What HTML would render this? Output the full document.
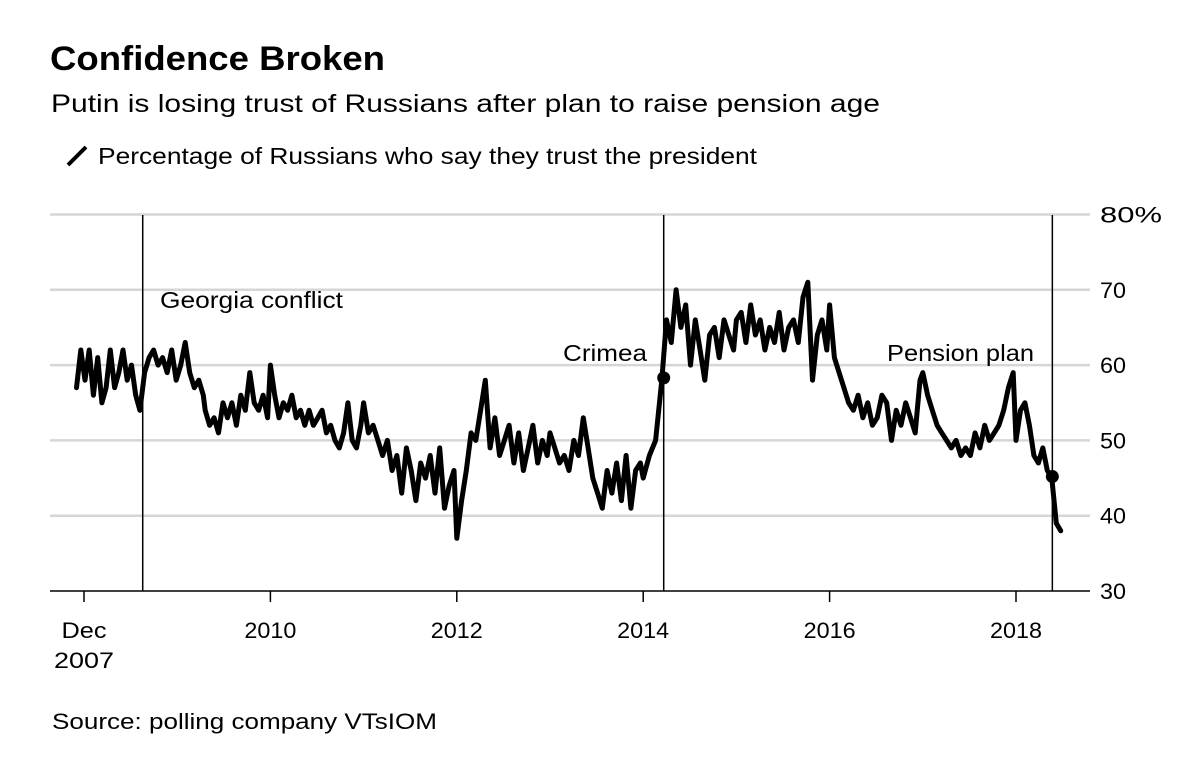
<!DOCTYPE html>
<html><head><meta charset="utf-8"><style>
body{margin:0;background:#fff;font-family:"Liberation Sans",sans-serif;}
svg{display:block}
</style></head><body>
<svg id="c" width="1200" height="761">
<text x="50" y="70" font-size="34" font-weight="bold" fill="#000" textLength="335" lengthAdjust="spacingAndGlyphs">Confidence Broken</text>
<text x="51" y="112" font-size="25" fill="#000" textLength="829" lengthAdjust="spacingAndGlyphs">Putin is losing trust of Russians after plan to raise pension age</text>
<line x1="68" y1="165" x2="86" y2="147" stroke="#000" stroke-width="4"/>
<text x="98" y="164" font-size="23" fill="#000" textLength="659" lengthAdjust="spacingAndGlyphs">Percentage of Russians who say they trust the president</text>
<text x="52" y="729" font-size="22" fill="#000" textLength="385" lengthAdjust="spacingAndGlyphs">Source: polling company VTsIOM</text>
<g id="grid"></g><g id="plot"></g>
</svg>
<script>
const yTicks=[30,40,50,60,70,80];
const xTickYears=[2008,2010,2012,2014,2016,2018];
const xTickLabels=["Dec","2010","2012","2014","2016","2018"];
const segStarts=[2007.92,2008.65,2009.3,2010,2011,2012,2013,2014,2014.25,2015,2016,2017,2018];
const segEnds=[2008.6,2009.28,2009.97,2010.97,2011.97,2012.97,2013.97,2014.2,2014.97,2015.97,2016.97,2017.97,2018.48];
const segValues=[
[57,62,58,62,56,61,55,57,62,57,59,62,58,60,56,54],
[59,61,62,60,61,59,62,58,60,63,59,57,58,56],
[54,52,53,51,55,53,55,52,56,54,59,55,54,56,53],
[60,56,53,55,54,56,53,54,52,54,52,53,54,51,52,50,49,51,55,50,49,52],
[55,51,52,50,48,50,46,48,43,49,46,42,47,45,48,43,49,41,44,46],
[37,42,46,51,50,54,58,49,53,48,50,52,47,51,46,49,52,47,50,48],
[51,49,47,48,46,50,48,53,49,45,43,41,46,43,47,42,48,41,46,47],
[45,48,50,58],
[66,63,70,65,68,60,66,62,58,64,65,61,66,64,62],
[66,67,63,68,64,66,62,65,63,67,62,65,66,63,69,71,58,64,66,62],
[68,61,59,57,55,54,56,53,55,52,53,56,55,50,54,52,55,53,51,58],
[59,56,54,52,51,50,49,50,48,49,48,51,49,52,50,51,52,54,57,59],
[50,54,55,52,48,47,49,46,45,39,38]];
const eventNames=["Georgia conflict","Crimea","Pension plan"];
const eventYears=[2008.63,2014.22,2018.39];
const eventValues=[null,58.3,45.2];

const NS="http://www.w3.org/2000/svg";
const X=t=>84+(t-2008)*93.2;
const Y=v=>591-(v-30)*7.53;
function mk(tag,attrs,parent,txt){const e=document.createElementNS(NS,tag);for(const k in attrs)e.setAttribute(k,attrs[k]);if(txt!=null)e.textContent=txt;parent.appendChild(e);return e;}
const grid=document.getElementById('grid'),plot=document.getElementById('plot');
yTicks.forEach(v=>{
  const l=mk('line',{x1:50,x2:1090,y1:Y(v),y2:Y(v),stroke:v===30?'#000':'#d6d6d6','stroke-width':v===30?1.5:2.5},grid);
  
  
  const lbl=v===80?'80%':String(v);
  const t=mk('text',{x:1100,y:Y(v)+8,'font-size':22,fill:'#000',textLength:v===80?62:26,lengthAdjust:'spacingAndGlyphs'},grid,lbl);
  
  
});
xTickYears.forEach((yr,i)=>{
  const tk=mk('line',{x1:X(yr),x2:X(yr),y1:591,y2:602,stroke:'#000','stroke-width':1.5},grid);
  
  
  const t=mk('text',{x:X(yr),y:638,'font-size':22,fill:'#000','text-anchor':'middle',textLength:i===0?45:52,lengthAdjust:'spacingAndGlyphs'},grid,xTickLabels[i]);
  
  
});
const t2=mk('text',{x:X(2008),y:668,'font-size':22,fill:'#000','text-anchor':'middle',textLength:60,lengthAdjust:'spacingAndGlyphs'},grid,'2007');


eventYears.forEach((yr,i)=>{
  const l=mk('line',{x1:X(yr),x2:X(yr),y1:215,y2:591,stroke:'#000','stroke-width':1.5},grid);
  
  
});
const lab=[[160,308,183],[563,361,84],[887,361,147]];
eventNames.forEach((n,i)=>{
  const t=mk('text',{x:lab[i][0],y:lab[i][1],'font-size':23,fill:'#000',textLength:lab[i][2],lengthAdjust:'spacingAndGlyphs'},grid,n);
  
  
});
let pts=[];
segValues.forEach((vals,s)=>{
  const n=vals.length;
  vals.forEach((v,j)=>{const t=n>1?segStarts[s]+(segEnds[s]-segStarts[s])*j/(n-1):segStarts[s];pts.push([X(t),Y(v)]);});
});
const p=mk('polyline',{points:pts.map(q=>q[0].toFixed(1)+','+q[1].toFixed(1)).join(' '),fill:'none',stroke:'#000','stroke-width':5,'stroke-linejoin':'round','stroke-linecap':'round'},plot);


eventValues.forEach((v,i)=>{
  if(v==null)return;
  const c=mk('circle',{cx:X(eventYears[i]),cy:Y(v),r:6.5,fill:'#000'},plot);
  
  
});
</script>
</body></html>
